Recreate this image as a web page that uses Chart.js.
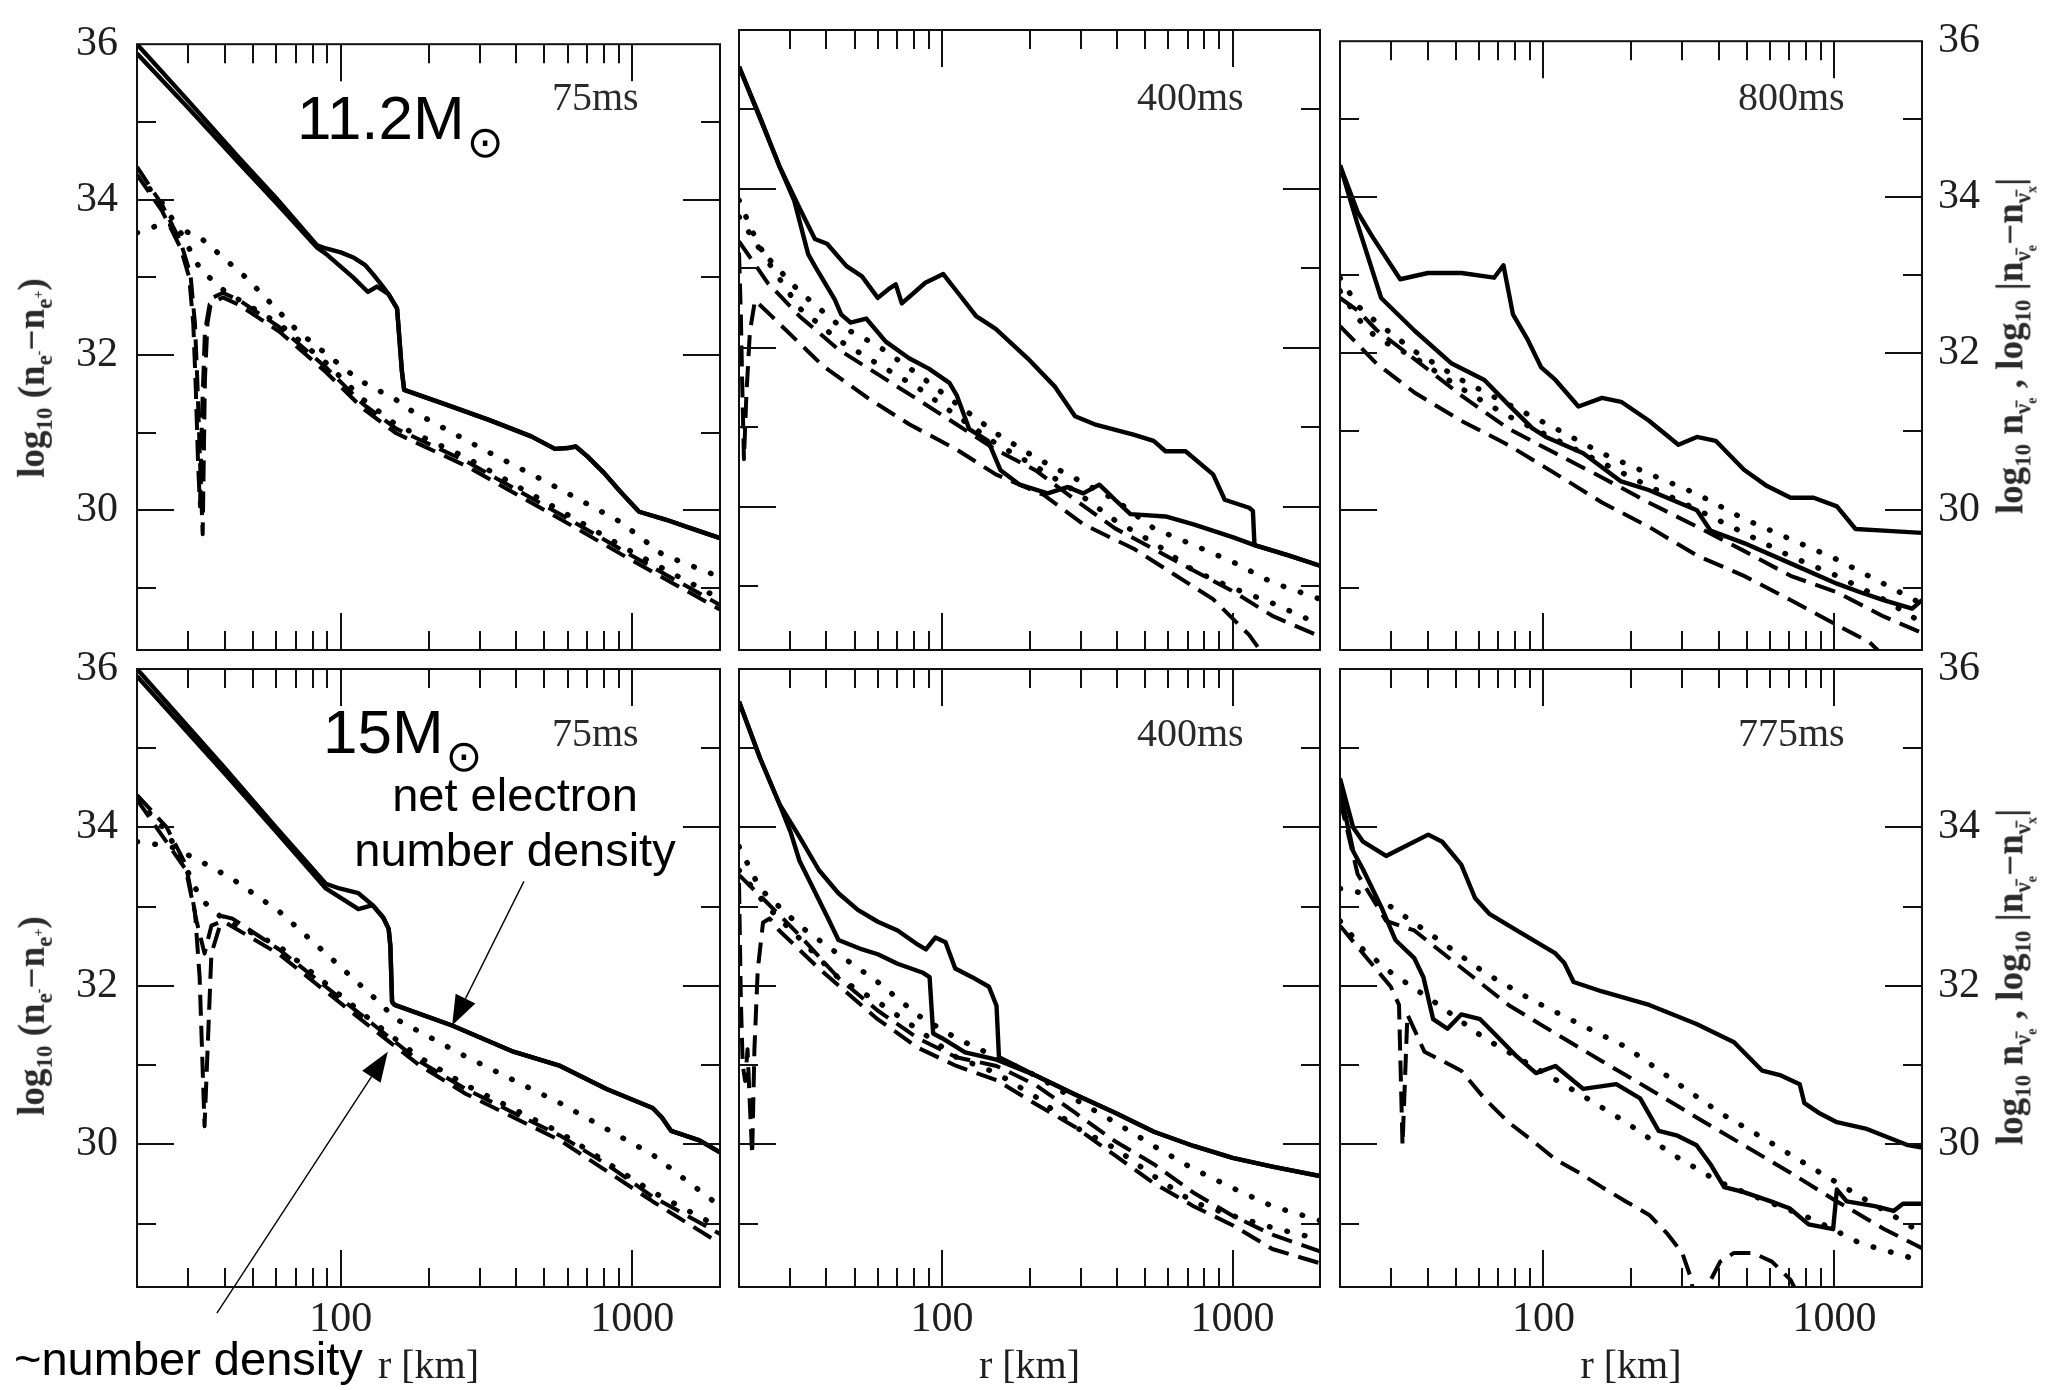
<!DOCTYPE html>
<html>
<head>
<meta charset="utf-8">
<script src="https://cdn.jsdelivr.net/npm/chart.js@4.4.1/dist/chart.umd.min.js"></script>
<style>
  html, body { margin: 0; padding: 0; background: #fff; }
  #wrap { position: relative; width: 2057px; height: 1390px; overflow: hidden; }
  canvas { position: absolute; left: 0; top: 0; }
  .txt { position: absolute; white-space: nowrap; line-height: 1; color: #000; }
  .big { font-family: 'Liberation Sans', Arial, sans-serif; font-size: 62px; }
  .sun { font-family: 'DejaVu Sans', sans-serif; font-size: 44px; position: relative; top: 18px; margin-left: 2px; }
  .note { font-family: 'Liberation Sans', Arial, sans-serif; font-size: 47px; }
  .time { font-family: 'Liberation Serif', 'Times New Roman', serif; font-size: 40px; color: #2a2a2a; }
  .ytitle { position: absolute; white-space: nowrap; line-height: 1; color: #2a2a2a;
            font-family: 'Liberation Serif', 'Times New Roman', serif; font-weight: bold; font-size: 37px;
            transform: translate(-50%, -50%) rotate(-90deg); }
  .ytitle sub, .ytitle sup { font-size: 0.62em; }
</style>
</head>
<body>
<div id="wrap">
  <canvas id="p1" width="2057" height="1390"></canvas>
  <canvas id="p2" width="2057" height="1390"></canvas>
  <canvas id="p3" width="2057" height="1390"></canvas>
  <canvas id="p4" width="2057" height="1390"></canvas>
  <canvas id="p5" width="2057" height="1390"></canvas>
  <canvas id="p6" width="2057" height="1390"></canvas>

  <div class="txt big" style="left:297px; top:87px;">11.2M<span class="sun">⊙</span></div>
  <div class="txt big" style="left:323px; top:701px;">15M<span class="sun">⊙</span></div>

  <div class="txt time" style="left:552px; top:77px;">75ms</div>
  <div class="txt time" style="left:1137px; top:77px;">400ms</div>
  <div class="txt time" style="left:1738px; top:77px;">800ms</div>
  <div class="txt time" style="left:552px; top:713px;">75ms</div>
  <div class="txt time" style="left:1137px; top:713px;">400ms</div>
  <div class="txt time" style="left:1738px; top:713px;">775ms</div>

  <div class="txt note" style="left:315px; top:767px; width:400px; text-align:center; line-height:55px;">net electron<br>number density</div>
  <div class="txt note" style="left:14px; top:1335px;">~number density</div>

  <div class="ytitle" style="left:35px; top:378px;">log<sub>10</sub> (n<sub>e<sup>-</sup></sub>−n<sub>e<sup>+</sup></sub>)</div>
  <div class="ytitle" style="left:35px; top:1016px;">log<sub>10</sub> (n<sub>e<sup>-</sup></sub>−n<sub>e<sup>+</sup></sub>)</div>
  <div class="ytitle" style="left:2015px; top:346px;">log<sub>10</sub> n<sub>ν̄<sub>e</sub></sub> , log<sub>10</sub> |n<sub>ν̄<sub>e</sub></sub>−n<sub>ν̄<sub>x</sub></sub>|</div>
  <div class="ytitle" style="left:2015px; top:977px;">log<sub>10</sub> n<sub>ν̄<sub>e</sub></sub> , log<sub>10</sub> |n<sub>ν̄<sub>e</sub></sub>−n<sub>ν̄<sub>x</sub></sub>|</div>
</div>

<script>
// axis ranges and ticks
const R_MIN = 20, R_MAX = 2000;
const Y_MIN = 28.2, Y_MAX = 36;
const xLabels = [100, 1000];
const xMinor = [30, 40, 50, 60, 70, 80, 90, 200, 300, 400, 500, 600, 700, 800, 900];
const yLabels = [30, 32, 34, 36];
const yMajor = [30, 32, 34];
const yMinor = [29, 31, 33, 35];

// profiles: [r in km, log10 density]
// 11.2 Msun, 75 ms
const m112_75_solidA = [[20,36.0],[30,35.27],[45,34.53],[60,34.02],[83,33.41],[89,33.37],[100,33.32],[111,33.25],[121,33.16],[129,33.04],[138,32.9],[146,32.78],[156,32.6],[159,32.2],[162,31.8],[165,31.55],[230,31.36],[324,31.16],[450,30.95],[543,30.79],[600,30.8],[640,30.82],[703,30.69],[800,30.48],[900,30.26],[980,30.11],[1056,29.98],[1300,29.88],[1584,29.77],[2000,29.64]];
const m112_75_solidB = [[20,35.88],[30,35.18],[45,34.46],[60,33.96],[83,33.38],[89,33.3],[110,33.0],[124,32.81],[133,32.88],[146,32.78],[156,32.6],[159,32.2],[162,31.8],[165,31.55],[230,31.36],[324,31.16],[450,30.95],[543,30.79],[600,30.8],[640,30.82],[703,30.69],[800,30.48],[900,30.26],[980,30.11],[1056,29.98],[1300,29.88],[1584,29.77],[2000,29.64]];
const m112_75_dotA = [[20,33.57],[25,33.7],[33,33.51],[47.5,32.99],[71,32.31],[115,31.68],[155,31.42],[173,31.29],[324,30.74],[504,30.37],[678,30.11],[910,29.85],[1270,29.43],[2000,29.14]];
const m112_75_dotB = [[20,34.3],[24,34.0],[28,33.6],[33,33.1],[40,32.82],[61.5,32.4],[88.9,31.9],[119,31.43],[155,31.1],[269,30.68],[564,30.0],[980,29.48],[2000,28.86]];
const m112_75_dashA = [[20,34.42],[24.4,33.93],[28.2,33.46],[30.5,33.04],[31.6,32.41],[32.2,31.68],[32.9,30.63],[33.6,29.69],[34.2,31.68],[34.9,32.41],[36.1,32.73],[39.4,32.8],[45,32.7],[61.5,32.36],[88.9,31.84],[119,31.37],[155,31.05],[269,30.63],[564,29.95],[980,29.43],[2000,28.78]];
const m112_75_dashB = [[20,34.32],[24.4,33.85],[28.2,33.38],[30.2,33.0],[31.2,32.4],[31.8,31.6],[32.4,30.6],[32.9,30.05],[33.4,31.2],[34.2,32.3],[35.5,32.65],[39.4,32.74],[45,32.64],[61.5,32.3],[88.9,31.78],[119,31.31],[155,30.99],[269,30.57],[564,29.89],[980,29.37],[2000,28.72]];

// 11.2 Msun, 400 ms
const m112_400_solidA = [[20,35.54],[23.6,34.91],[27.6,34.28],[32.3,33.76],[36.5,33.37],[40.2,33.31],[46.9,33.03],[53,32.9],[60.1,32.63],[66,32.75],[69.3,32.8],[72.7,32.56],[87.6,32.82],[101,32.93],[112.5,32.71],[131,32.4],[153,32.24],[197,31.87],[245,31.51],[287,31.14],[335,31.04],[456,30.91],[535,30.83],[588,30.7],[689,30.7],[857,30.41],[940,30.09],[1140,29.99],[1175,29.95],[1190,29.52],[1557,29.39],[2000,29.26]];
const m112_400_solidB = [[20,35.54],[27.6,34.28],[31,33.85],[34.6,33.18],[36.5,33.03],[42.7,32.61],[45,32.42],[48.4,32.32],[54.8,32.37],[64,32.08],[77,31.87],[90,31.74],[106,31.56],[112.5,31.4],[124,30.98],[144,30.83],[159,30.46],[185,30.28],[231,30.17],[270,30.25],[306,30.17],[348,30.28],[394,30.09],[445,29.91],[588,29.88],[734,29.78],[1000,29.62],[1190,29.52],[1557,29.39],[2000,29.26]];
const m112_400_dotA = [[20,33.65],[23.6,33.24],[32.3,32.71],[44,32.29],[60,32.03],[82.6,31.67],[112,31.3],[153,30.93],[210,30.62],[287,30.36],[394,30.09],[536,29.73],[734,29.52],[1000,29.31],[1370,29.05],[2000,28.84]];
const m112_400_dotB = [[20,33.86],[22,33.5],[25,33.1],[32.3,32.5],[44,32.1],[60,31.8],[82.6,31.5],[112,31.15],[153,30.8],[210,30.51],[287,30.2],[394,29.83],[536,29.55],[734,29.2],[1000,28.98],[1370,28.79],[2000,28.52]];
const m112_400_dashA = [[20,33.34],[25.1,32.82],[32.3,32.4],[44,31.98],[60,31.67],[82.6,31.35],[112,31.04],[153,30.72],[210,30.46],[287,30.09],[394,29.73],[536,29.47],[734,29.2],[1000,28.94],[1370,28.63],[2000,28.37]];
const m112_400_dashB = [[20,33.2],[20.3,32.4],[20.5,31.6],[20.8,30.6],[21.2,31.4],[21.8,32.2],[22.7,32.6],[25.9,32.4],[39,31.77],[56.6,31.35],[77.1,31.04],[112.5,30.72],[153,30.41],[224,30.15],[307,29.78],[459,29.47],[630,29.15],[857,28.84],[1140,28.39],[1300,28.1]];

// 11.2 Msun, 800 ms
const m112_800_solidA = [[20,34.41],[23,33.81],[25.8,33.5],[32.2,32.95],[40.1,33.03],[52.3,33.03],[67.7,32.97],[72.9,33.13],[78.6,32.5],[87.9,32.19],[98.3,31.82],[110,31.66],[132,31.32],[159,31.43],[185,31.38],[230,31.14],[291,30.83],[337,30.93],[391,30.88],[489,30.51],[587,30.3],[707,30.15],[849,30.15],[1020,30.04],[1182,29.75],[1475,29.73],[2000,29.7]];
const m112_800_solidB = [[20,34.41],[23,33.65],[27.7,32.71],[36.1,32.29],[48.4,31.87],[62.7,31.66],[75.5,31.35],[91.7,31.04],[102,30.93],[137,30.72],[185,30.36],[230,30.25],[291,30.09],[337,29.99],[375,29.73],[489,29.57],[707,29.31],[1020,29.05],[1227,28.94],[1475,28.84],[1850,28.73],[2000,28.84]];
const m112_800_dotA = [[20,32.97],[23,32.61],[26.7,32.4],[36,32.03],[52.3,31.66],[75.5,31.35],[110,31.04],[159,30.72],[230,30.46],[337,30.2],[489,29.88],[707,29.62],[1020,29.36],[1475,29.05],[2000,28.79]];
const m112_800_dotB = [[20,32.8],[23,32.45],[26.7,32.2],[36,31.95],[52.3,31.55],[75.5,31.2],[110,30.9],[159,30.6],[230,30.3],[337,30.0],[489,29.7],[707,29.4],[1020,29.15],[1475,28.85],[2000,28.55]];
const m112_800_dashA = [[20,32.71],[23,32.55],[26.7,32.3],[36,31.93],[52.3,31.46],[75.5,31.04],[110,30.72],[159,30.41],[230,30.09],[337,29.78],[489,29.47],[707,29.15],[1020,28.94],[1475,28.63],[2000,28.42]];
const m112_800_dashB = [[20,32.35],[26.7,31.87],[36,31.5],[52,31.14],[75.5,30.83],[110,30.46],[159,30.09],[230,29.78],[337,29.41],[489,29.15],[707,28.84],[1020,28.52],[1320,28.3],[1500,28.1]];

// 15 Msun, 75 ms
const m15_75_solidA = [[20,36.0],[40,34.75],[60,34.0],[88.9,33.29],[99,33.23],[115,33.17],[128.6,33.02],[140,32.86],[146,32.72],[148,32.5],[150,31.8],[153,31.76],[241,31.5],[391,31.17],[566,30.99],[816,30.7],[1175,30.46],[1264,30.34],[1360,30.17],[1700,30.05],[2000,29.9]];
const m15_75_solidB = [[20,35.91],[40,34.68],[60,33.95],[88.9,33.23],[115,32.97],[128.6,33.02],[140,32.86],[146,32.72],[148,32.5],[150,31.8],[153,31.76],[241,31.5],[391,31.17],[566,30.99],[816,30.7],[1175,30.46],[1264,30.34],[1360,30.17],[1700,30.05],[2000,29.9]];
const m15_75_dotA = [[20,33.82],[26.1,33.76],[32.8,33.58],[42.5,33.35],[61.5,32.94],[88.9,32.41],[128.6,31.87],[155,31.58],[268,31.11],[566,30.52],[1175,29.87],[2000,29.22]];
const m15_75_dotB = [[20,34.35],[25.3,33.95],[29.4,33.5],[33,33.1],[39.4,32.85],[61.5,32.5],[88.9,32.03],[128.6,31.55],[186,31.1],[268,30.75],[566,30.15],[1175,29.4],[2000,28.95]];
const m15_75_dashA = [[20,34.41],[25.3,34.0],[29.4,33.53],[31.6,32.94],[32.8,32.11],[34.1,30.23],[36.0,32.41],[39.4,32.88],[42.5,32.85],[61.5,32.46],[88.9,31.99],[128.6,31.52],[186,31.05],[268,30.7],[391,30.4],[566,30.11],[816,29.75],[1175,29.34],[2000,28.87]];
const m15_75_dashB = [[20,34.35],[29.4,33.47],[32,32.82],[34.1,32.41],[36,32.76],[39.4,32.82],[61.5,32.4],[88.9,31.93],[128.6,31.46],[186,31.0],[268,30.64],[566,30.05],[1175,29.28],[2000,28.75]];

// 15 Msun, 400 ms
const m15_400_solidA = [[20,35.59],[23.6,34.88],[27.6,34.29],[32.3,33.88],[37.7,33.46],[44,33.17],[51.3,32.96],[60.1,32.81],[70.3,32.7],[82.6,32.52],[88,32.46],[94.8,32.61],[102.8,32.55],[111,32.22],[127,32.11],[145,31.99],[154,31.75],[157,31.1],[210,30.87],[287,30.63],[394,30.4],[536,30.16],[734,29.98],[1000,29.83],[1370,29.72],[2000,29.6]];
const m15_400_solidB = [[20,35.59],[23.6,34.88],[27.6,34.29],[30.1,33.94],[32.3,33.58],[40.3,32.87],[44,32.58],[53.1,32.46],[60.1,32.4],[70.3,32.28],[85.5,32.17],[90.6,32.11],[93.2,31.4],[100,31.34],[120,31.16],[154,31.07],[210,30.87],[287,30.63],[394,30.4],[536,30.16],[734,29.98],[1000,29.83],[1370,29.72],[2000,29.6]];
const m15_400_dotA = [[20,33.76],[23.6,33.23],[32.3,32.76],[44,32.4],[60,32.05],[82.6,31.63],[112,31.34],[154,31.1],[210,30.87],[287,30.57],[394,30.28],[536,29.98],[734,29.69],[1000,29.45],[1370,29.22],[2000,29.04]];
const m15_400_dotB = [[20,33.46],[25,33.0],[32.3,32.6],[44,32.1],[60,31.8],[82.6,31.45],[112,31.1],[154,30.9],[210,30.6],[287,30.22],[394,29.95],[536,29.6],[734,29.27],[1000,29.1],[1370,28.95],[2000,28.8]];
const m15_400_dashA = [[20,33.4],[25,33.05],[32.3,32.64],[44,32.1],[60,31.69],[82.6,31.34],[112,31.1],[154,30.99],[210,30.75],[287,30.4],[394,30.04],[536,29.75],[734,29.39],[1000,29.1],[1370,28.86],[2000,28.65]];
const m15_400_dashB = [[20,33.3],[20.3,31.8],[20.6,31.0],[21,30.8],[21.4,31.2],[21.8,30.5],[22.2,29.87],[22.6,31.2],[23.2,32.2],[24.2,32.8],[25.5,32.85],[27.5,32.7],[37.7,32.22],[60,31.58],[82.6,31.22],[112,30.99],[154,30.81],[210,30.51],[287,30.22],[394,29.86],[536,29.51],[734,29.22],[1000,28.98],[1370,28.68],[2000,28.5]];

// 15 Msun, 775 ms
const m15_775_solidA = [[20,34.62],[22.2,34.0],[24,33.82],[28.8,33.64],[33.4,33.76],[40.2,33.91],[44.9,33.82],[52.2,33.53],[58.2,33.11],[65.2,32.91],[81,32.7],[110,32.41],[118,32.29],[127,32.05],[159,31.93],[231,31.76],[336,31.52],[452,31.29],[565,30.93],[655,30.87],[760,30.76],[789,30.52],[882,30.4],[1020,30.28],[1280,30.2],[1790,29.99],[2000,29.96]];
const m15_775_solidB = [[20,34.47],[22.2,33.7],[24,33.47],[27.7,33.0],[31,32.58],[36,32.35],[38.7,32.11],[41.8,31.58],[46.8,31.46],[52.2,31.64],[60.6,31.58],[67.8,31.4],[81,31.11],[94.3,30.9],[110,30.99],[137,30.7],[178,30.76],[215,30.58],[249,30.17],[289,30.11],[336,29.99],[375,29.75],[418,29.46],[485,29.4],[605,29.28],[704,29.19],[815,28.99],[990,28.93],[1020,29.43],[1102,29.28],[1377,29.22],[1597,29.16],[1720,29.25],[2000,29.25]];
const m15_775_dotA = [[20,33.23],[24,33.17],[29.9,33.0],[43.7,32.58],[62.7,32.17],[91.5,31.82],[133,31.52],[192,31.23],[279,30.81],[404,30.4],[587,30.05],[850,29.69],[1230,29.34],[1790,28.99],[2000,28.87]];
const m15_775_dotB = [[20,32.82],[24,32.46],[29.9,32.17],[43.7,31.76],[62.7,31.34],[91.5,30.99],[133,30.64],[192,30.28],[279,29.87],[404,29.52],[587,29.28],[850,29.05],[1230,28.75],[1790,28.58],[2000,28.46]];
const m15_775_dashA = [[20,34.35],[23,33.41],[28.8,32.82],[36,32.7],[52.2,32.23],[75.8,31.76],[110,31.4],[159,31.05],[231,30.7],[336,30.34],[488,29.99],[708,29.64],[1020,29.28],[1485,28.93],[2000,28.69]];
const m15_775_dashB = [[20,32.76],[24,32.41],[29.9,31.99],[31.9,31.76],[32.8,29.99],[34.1,31.64],[39,31.17],[46.8,31.02],[52.2,30.93],[62.7,30.58],[75.8,30.28],[91.5,30.05],[110,29.81],[133,29.64],[159,29.46],[192,29.28],[231,29.11],[267,28.87],[300,28.63],[323,28.29],[345,27.3],[376,28.29],[405,28.52],[452,28.63],[525,28.63],[610,28.52],[707,28.29],[800,27.9]];

// annotation arrows in panel 15 Msun / 75 ms: [tail, tip] as [r, log10 n]
const arrows15 = [[[425, 33.32], [241, 31.5]], [[37.6, 27.87], [145, 31.17]]];

const lineStyles = {
  solid: { borderWidth: 4.4, borderDash: [] },
  dot:   { borderWidth: 5.5, borderDash: [0.5, 17.5], borderCapStyle: 'round' },
  dash:  { borderWidth: 4, borderDash: [21, 10] }
};

const W = 2057, H = 1390;
const Y_W = 80, X_H = 104;

const panels = [
  { id: 'p1', box: [137, 30, 720, 650], yAxis: 'left', xAxis: false,
    series: [[m112_75_dashA, 'dash'], [m112_75_dashB, 'dash'], [m112_75_dotA, 'dot'], [m112_75_dotB, 'dot'], [m112_75_solidA, 'solid'], [m112_75_solidB, 'solid']] },
  { id: 'p2', box: [739, 30, 1320, 650], yAxis: 'none', xAxis: false,
    series: [[m112_400_dashA, 'dash'], [m112_400_dashB, 'dash'], [m112_400_dotA, 'dot'], [m112_400_dotB, 'dot'], [m112_400_solidA, 'solid'], [m112_400_solidB, 'solid']] },
  { id: 'p3', box: [1340, 30, 1922, 650], yAxis: 'right', xAxis: false,
    series: [[m112_800_dashA, 'dash'], [m112_800_dashB, 'dash'], [m112_800_dotA, 'dot'], [m112_800_dotB, 'dot'], [m112_800_solidA, 'solid'], [m112_800_solidB, 'solid']] },
  { id: 'p4', box: [137, 669, 720, 1287], yAxis: 'left', xAxis: true, arrows: arrows15,
    series: [[m15_75_dashA, 'dash'], [m15_75_dashB, 'dash'], [m15_75_dotA, 'dot'], [m15_75_dotB, 'dot'], [m15_75_solidA, 'solid'], [m15_75_solidB, 'solid']] },
  { id: 'p5', box: [739, 669, 1320, 1287], yAxis: 'none', xAxis: true,
    series: [[m15_400_dashA, 'dash'], [m15_400_dashB, 'dash'], [m15_400_dotA, 'dot'], [m15_400_dotB, 'dot'], [m15_400_solidA, 'solid'], [m15_400_solidB, 'solid']] },
  { id: 'p6', box: [1340, 669, 1922, 1287], yAxis: 'right', xAxis: true,
    series: [[m15_775_dashA, 'dash'], [m15_775_dashB, 'dash'], [m15_775_dotA, 'dot'], [m15_775_dotB, 'dot'], [m15_775_solidA, 'solid'], [m15_775_solidB, 'solid']] }
];

const serif = "'Liberation Serif', 'Times New Roman', serif";
const labelColor = '#1e1e1e';

// box and inward tick marks on all four sides, plus the annotation arrows
const framePlugin = {
  id: 'frame',
  afterDatasetsDraw(chart) {
    const { ctx, chartArea: a, scales: { x, y } } = chart;
    ctx.save();
    ctx.strokeStyle = '#111';
    ctx.lineWidth = 2;
    ctx.strokeRect(a.left, a.top, a.right - a.left, a.bottom - a.top);
    ctx.beginPath();
    const xt = (v, len) => {
      const px = Math.round(x.getPixelForValue(v));
      ctx.moveTo(px, a.bottom); ctx.lineTo(px, a.bottom - len);
      ctx.moveTo(px, a.top); ctx.lineTo(px, a.top + len);
    };
    const yt = (v, len) => {
      const py = Math.round(y.getPixelForValue(v));
      ctx.moveTo(a.left, py); ctx.lineTo(a.left + len, py);
      ctx.moveTo(a.right, py); ctx.lineTo(a.right - len, py);
    };
    xMinor.forEach(v => xt(v, 19));
    xLabels.forEach(v => xt(v, 37));
    yMinor.forEach(v => yt(v, 19));
    yMajor.forEach(v => yt(v, 37));
    ctx.stroke();
    ctx.restore();
  },
  afterDraw(chart) {
    const list = chart.options.plugins.frame.arrows;
    if (!list) return;
    const { ctx, scales: { x, y } } = chart;
    ctx.save();
    ctx.strokeStyle = '#000';
    ctx.fillStyle = '#000';
    ctx.lineWidth = 1.4;
    list.forEach(([tail, tip]) => {
      const x1 = x.getPixelForValue(tail[0]), y1 = y.getPixelForValue(tail[1]);
      const x2 = x.getPixelForValue(tip[0]), y2 = y.getPixelForValue(tip[1]);
      const ang = Math.atan2(y2 - y1, x2 - x1);
      const hl = 30, hw = 11;
      const bx = x2 - hl * Math.cos(ang), by = y2 - hl * Math.sin(ang);
      ctx.beginPath();
      ctx.moveTo(x1, y1);
      ctx.lineTo(bx, by);
      ctx.stroke();
      ctx.beginPath();
      ctx.moveTo(x2, y2);
      ctx.lineTo(bx + hw * Math.sin(ang), by - hw * Math.cos(ang));
      ctx.lineTo(bx - hw * Math.sin(ang), by + hw * Math.cos(ang));
      ctx.closePath();
      ctx.fill();
    });
    ctx.restore();
  }
};

panels.forEach(function(p) {
  const [L, T, R, B] = p.box;
  const pad = {
    left: L - (p.yAxis === 'left' ? Y_W : 0),
    right: W - R - (p.yAxis === 'right' ? Y_W : 0),
    top: T,
    bottom: H - B - (p.xAxis ? X_H : 0)
  };

  const datasets = p.series.map(function([pts, kind]) {
    return Object.assign({
      data: pts.map(([r, v]) => ({ x: r, y: v })),
      borderColor: '#000',
      pointRadius: 0,
      tension: 0,
      fill: false,
      clip: 0,
      borderJoinStyle: 'round'
    }, lineStyles[kind]);
  });

  new Chart(document.getElementById(p.id), {
    type: 'line',
    data: { datasets: datasets },
    options: {
      responsive: false,
      animation: false,
      devicePixelRatio: 1,
      events: [],
      layout: { padding: pad },
      plugins: {
        legend: { display: false },
        tooltip: { enabled: false },
        frame: { arrows: p.arrows || null }
      },
      scales: {
        x: {
          type: 'logarithmic',
          min: R_MIN,
          max: R_MAX,
          display: p.xAxis,
          grid: { display: false, drawTicks: false },
          border: { display: false },
          afterBuildTicks: s => { s.ticks = xLabels.map(v => ({ value: v })); },
          afterFit: s => { if (p.xAxis) s.height = X_H; },
          ticks: {
            autoSkip: false,
            maxRotation: 0,
            padding: 8,
            color: labelColor,
            font: { family: serif, size: 42 },
            callback: v => String(v)
          },
          title: {
            display: true,
            text: 'r [km]',
            color: labelColor,
            padding: { top: 0, bottom: 0 },
            font: { family: serif, size: 40 }
          }
        },
        y: {
          type: 'linear',
          min: Y_MIN,
          max: Y_MAX,
          display: p.yAxis !== 'none',
          position: p.yAxis === 'right' ? 'right' : 'left',
          grid: { display: false, drawTicks: false },
          border: { display: false },
          afterBuildTicks: s => { s.ticks = yLabels.map(v => ({ value: v })); },
          afterFit: s => { if (p.yAxis !== 'none') s.width = Y_W; },
          ticks: {
            padding: p.yAxis === 'right' ? 16 : 19,
            color: labelColor,
            font: { family: serif, size: 42 },
            callback: v => String(v)
          }
        }
      }
    },
    plugins: [framePlugin]
  });
});
</script>
</body>
</html>
